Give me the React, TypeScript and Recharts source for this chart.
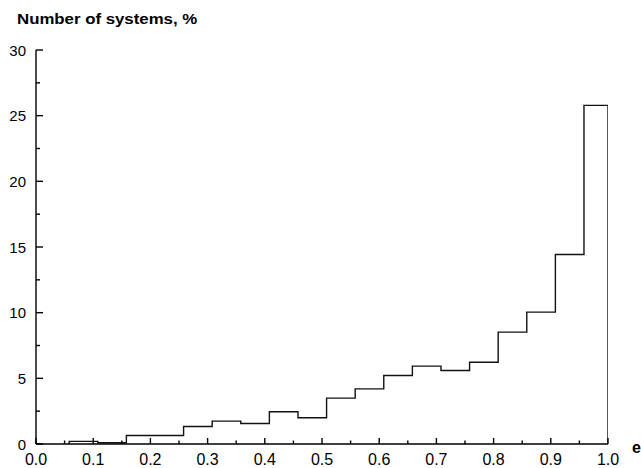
import React from 'react';
import { LineChart, Line, XAxis, YAxis } from 'recharts';

// Histogram bin left edges (eccentricity) and percentages
const binStarts = [0.058, 0.108, 0.158, 0.208, 0.258, 0.308, 0.358, 0.408, 0.458, 0.508, 0.558, 0.608, 0.658, 0.708, 0.758, 0.808, 0.858, 0.908, 0.958];
const binValues = [0.2, 0.1, 0.65, 0.65, 1.33, 1.74, 1.56, 2.45, 2.0, 3.49, 4.2, 5.22, 5.93, 5.6, 6.23, 8.52, 10.04, 14.43, 25.78];
const lastEdge = 1.0;

const xTicks = [0, 0.05, 0.1, 0.15, 0.2, 0.25, 0.3, 0.35, 0.4, 0.45, 0.5, 0.55, 0.6, 0.65, 0.7, 0.75, 0.8, 0.85, 0.9, 0.95, 1.0];
const yTicks = [0, 2.5, 5, 7.5, 10, 12.5, 15, 17.5, 20, 22.5, 25, 27.5, 30];

const title = 'Number of systems, %';
const xLabel = 'e';

const points: { x: number; y: number }[] = [];
points.push({ x: binStarts[0], y: 0 });
binStarts.forEach((s, i) => points.push({ x: s, y: binValues[i] }));
points.push({ x: lastEdge, y: 0 });

const FONT = '"Liberation Sans", Arial, Helvetica, sans-serif';

const isMajor = (v: number, step: number) => Math.abs(v / step - Math.round(v / step)) < 1e-6;

const XTick = (props: any) => {
  const { x, y, payload } = props;
  const v = payload.value as number;
  const major = isMajor(v, 0.1);
  return (
    <g>
      <line x1={x} x2={x} y1={y} y2={y - (major ? 6 : 3.5)} stroke="#000" strokeWidth={1.4} />
      {major && (
        <text x={x} y={y + 21} textAnchor="middle" fontSize={16} fontFamily={FONT} fill="#000">
          {v.toFixed(1)}
        </text>
      )}
    </g>
  );
};

const YTick = (props: any) => {
  const { x, y, payload } = props;
  const v = payload.value as number;
  const major = isMajor(v, 5);
  return (
    <g>
      <line x1={x} x2={x + (major ? 7 : 4)} y1={y} y2={y} stroke="#000" strokeWidth={1.4} />
      {major && (
        <text x={x - 10} y={y + 5.5} textAnchor="end" fontSize={15} fontFamily={FONT} fill="#000">
          {String(v)}
        </text>
      )}
    </g>
  );
};

export default function App() {
  return (
    <div style={{ position: 'absolute', left: 0, top: 0, width: 641, height: 468, background: '#fff' }}>
      <LineChart width={641} height={468} data={points} margin={{ top: 50, right: 33, left: 0, bottom: 0 }}>
        <XAxis
          dataKey="x"
          type="number"
          domain={[0, 1]}
          ticks={xTicks}
          interval={0}
          tickSize={0}
          tickMargin={0}
          height={24}
          tick={<XTick />}
          axisLine={{ stroke: '#000', strokeWidth: 1.4 }}
          tickLine={false}
          allowDataOverflow
        />
        <YAxis
          type="number"
          domain={[0, 30]}
          ticks={yTicks}
          interval={0}
          tickSize={0}
          tickMargin={0}
          width={36}
          tick={<YTick />}
          axisLine={{ stroke: '#000', strokeWidth: 1.4 }}
          tickLine={false}
          allowDataOverflow
        />
        <Line
          type="stepAfter"
          dataKey="y"
          stroke="#111"
          strokeWidth={1.4}
          dot={false}
          activeDot={false}
          isAnimationActive={false}
        />
      </LineChart>
      <div
        style={{
          position: 'absolute',
          left: 17,
          top: 11,
          fontFamily: FONT,
          fontWeight: 'bold',
          fontSize: 14,
          lineHeight: '16px',
          whiteSpace: 'nowrap',
          transform: 'scaleX(1.2)',
          transformOrigin: 'left center',
        }}
      >
        {title}
      </div>
      <div
        style={{
          position: 'absolute',
          left: 632,
          top: 439,
          fontFamily: FONT,
          fontWeight: 'bold',
          fontSize: 16,
          lineHeight: '18px',
          whiteSpace: 'nowrap',
        }}
      >
        {xLabel}
      </div>
    </div>
  );
}
